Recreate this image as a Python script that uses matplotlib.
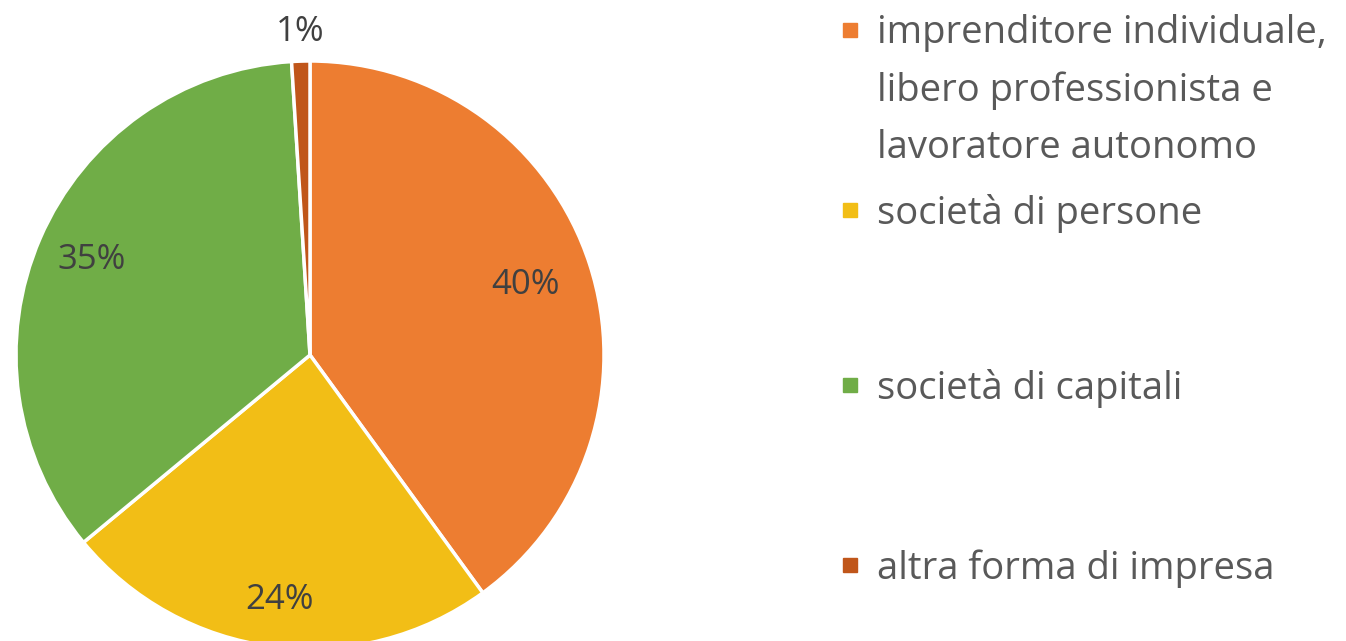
import numpy as np
import matplotlib.pyplot as plt

# Data
labels = ["imprenditore individuale,\nlibero professionista e\nlavoratore autonomo",
          "società di persone",
          "società di capitali",
          "altra forma di impresa"]
values = [40, 24, 35, 1]
colors = ["#ED7D31", "#F2BE16", "#70AD47", "#C0561A"]

plt.rcParams['font.family'] = ['Open Sans', 'DejaVu Sans']

fig = plt.figure(figsize=(13.46, 6.41), dpi=100)
W, H = 1346, 641
cx, cy, r = 310, 286, 294
ax = fig.add_axes([(cx - r) / W, (cy - r) / H, 2 * r / W, 2 * r / H])

wedges, texts, autotexts = ax.pie(values, colors=colors, startangle=90, counterclock=False,
                                  autopct='%.0f%%', pctdistance=0.8,
                                  wedgeprops=dict(edgecolor='white', linewidth=2.5),
                                  textprops=dict(fontsize=25, color='#404040'))
ax.set_xlim(-1, 1)
ax.set_ylim(-1, 1)
ax.set_aspect('equal')

# label distances per wedge
dists = [0.77, 0.84, 0.81, 1.1]
for w, t, d in zip(wedges, autotexts, dists):
    ang = np.deg2rad((w.theta1 + w.theta2) / 2)
    t.set_position((d * np.cos(ang), d * np.sin(ang)))

# Legend
ys = [30, 210, 385, 565]
for lab, col, y in zip(labels, colors, ys):
    fig.patches.append(plt.Rectangle((843 / W, 1 - (y + 7) / H), 14 / W, 14 / H,
                                     transform=fig.transFigure, color=col))
    fig.text(877 / W, 1 - (y - 16) / H, lab, fontsize=27.5, color='#595959',
             va='top', ha='left', linespacing=1.66)

fig.savefig("out.png", dpi=100)
